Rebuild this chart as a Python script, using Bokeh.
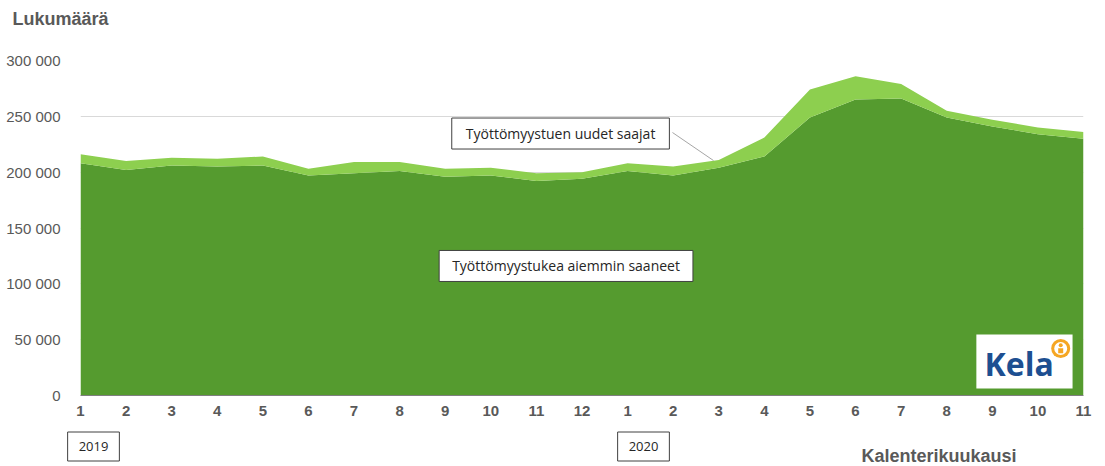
from bokeh.plotting import figure
from bokeh.models import ColumnDataSource, FixedTicker, Label, Range1d
from bokeh.layouts import column
from bokeh.embed import file_html
from bokeh.resources import INLINE

# ---- data (values in persons) ----
months_2019 = [1, 2, 3, 4, 5, 6, 7, 8, 9, 10, 11, 12]
months_2020 = [1, 2, 3, 4, 5, 6, 7, 8, 9, 10, 11]
years = ["2019", "2020"]
previous_recipients = [208000, 202000, 206000, 205000, 206000, 197000, 199000, 201000,
                       196000, 197000, 192000, 194000, 201000, 197000, 204000, 214000,
                       249000, 265000, 266000, 249000, 241000, 234000, 230000]
new_recipients = [8000, 8000, 7000, 7000, 8000, 6000, 10000, 8000, 7000, 7000, 7000, 6000,
                  7000, 8000, 7000, 17000, 25000, 21000, 13000, 6000, 6000, 6000, 6000]
y_ticks = [0, 50000, 100000, 150000, 200000, 250000, 300000]

month_labels = months_2019 + months_2020
xs = list(range(len(month_labels)))

source = ColumnDataSource(dict(x=xs, prev=previous_recipients, new=new_recipients))

DARK = "#559B2F"
LIGHT = "#8DCF4F"
GREY = "#595959"
W = 1097


def strip(h):
    f = figure(width=W, height=h, output_backend="svg", toolbar_location=None,
               x_range=Range1d(0, W), y_range=Range1d(0, h),
               x_axis_location=None, y_axis_location=None, min_border=0,
               frame_align=False)
    f.outline_line_color = None
    f.grid.visible = False
    return f


# ---- top strip: y-axis title ----
top = strip(30)
top.add_layout(Label(x=12, y=11.5, text="Lukumäärä", text_font="Liberation Sans",
                     text_font_size="18px", text_font_style="bold", text_color=GREY,
                     text_baseline="middle", text_align="left"))

# ---- main chart ----
p = figure(width=W, height=388, output_backend="svg", toolbar_location=None,
           x_range=(0, len(xs) - 1), y_range=(0, 300000),
           min_border_left=80, min_border_right=14, min_border_top=30, min_border_bottom=23,
           frame_align=False)
p.outline_line_color = None
p.background_fill_color = "white"

p.varea_stack(stackers=["prev", "new"], x="x", color=[DARK, LIGHT], source=source)

p.yaxis.ticker = FixedTicker(ticks=y_ticks)
p.yaxis.major_label_overrides = {t: (f"{t:,}".replace(",", " ")) for t in y_ticks}
p.yaxis.axis_line_color = None
p.yaxis.major_tick_line_color = None
p.yaxis.minor_tick_line_color = None
p.yaxis.major_label_standoff = 14
p.yaxis.major_label_text_font = "Liberation Sans"
p.yaxis.major_label_text_font_size = "15px"
p.yaxis.major_label_text_color = GREY

p.xaxis.ticker = FixedTicker(ticks=xs)
p.xaxis.major_label_overrides = {i: str(m) for i, m in zip(xs, month_labels)}
p.xaxis.axis_line_color = "#7F7F7F"
p.xaxis.major_tick_line_color = None
p.xaxis.minor_tick_line_color = None
p.xaxis.major_label_standoff = 4
p.xaxis.major_label_text_font = "Liberation Sans"
p.xaxis.major_label_text_font_size = "15px"
p.xaxis.major_label_text_font_style = "bold"
p.xaxis.major_label_text_color = GREY

p.xgrid.grid_line_color = None
p.ygrid.grid_line_color = "#D9D9D9"
p.ygrid.grid_line_width = 1

# series annotations
p.segment(x0=[12.985], y0=[235500], x1=[13.885], y1=[210400], line_color="#A6A6A6", line_width=1)
p.add_layout(Label(x=10.53, y=234600, text="Työttömyystuen uudet saajat", text_font="Open Sans",
                   text_font_size="14px", text_color="#262626", text_align="center",
                   text_baseline="middle", border_line_color="#404040", border_line_width=1,
                   background_fill_color="white", padding=dict(left=14, right=14, top=6, bottom=6)))
p.add_layout(Label(x=10.65, y=116000, text="Työttömyystukea aiemmin saaneet", text_font="Open Sans",
                   text_font_size="14px", text_color="#262626", text_align="center",
                   text_baseline="middle", border_line_color="#404040", border_line_width=1,
                   background_fill_color="white", padding=dict(left=13, right=13, top=6, bottom=6)))

# Kela logo
p.quad(left=[19.65], right=[21.76], top=[54600], bottom=[6300], fill_color="white", line_color=None)
p.add_layout(Label(x=19.83, y=28700, text="Kela", text_font="Open Sans", text_font_size="32px",
                   text_font_style="bold", text_color="#1D4F91", text_baseline="middle"))
p.scatter(x=[21.50], y=[42100], size=19, marker="circle", fill_color="#F5A623", line_color=None)
p.scatter(x=[21.50], y=[42100], size=13, marker="circle", fill_color="white", line_color=None)
p.scatter(x=[21.50], y=[45000], size=4, marker="circle", fill_color="#F5A623", line_color=None)
p.scatter(x=[21.50], y=[40000], size=5, marker="square", fill_color="#F5A623", line_color=None)

# ---- bottom strip: year boxes and x-axis title ----
bot = strip(48)
for xpos, yr in zip([93, 643], years):
    bot.add_layout(Label(x=xpos, y=20, text=yr, text_font="Open Sans", text_font_size="13px",
                         text_color="#262626", text_align="center", text_baseline="middle",
                         border_line_color="#404040", border_line_width=1,
                         background_fill_color="white",
                         padding=dict(left=11, right=11, top=10, bottom=10)))
bot.add_layout(Label(x=861, y=11, text="Kalenterikuukausi", text_font="Liberation Sans",
                     text_font_size="18px", text_font_style="bold", text_color=GREY,
                     text_baseline="middle", text_align="left"))

layout = column(top, p, bot, spacing=0)
open("out.html", "w").write(file_html(layout, INLINE))
